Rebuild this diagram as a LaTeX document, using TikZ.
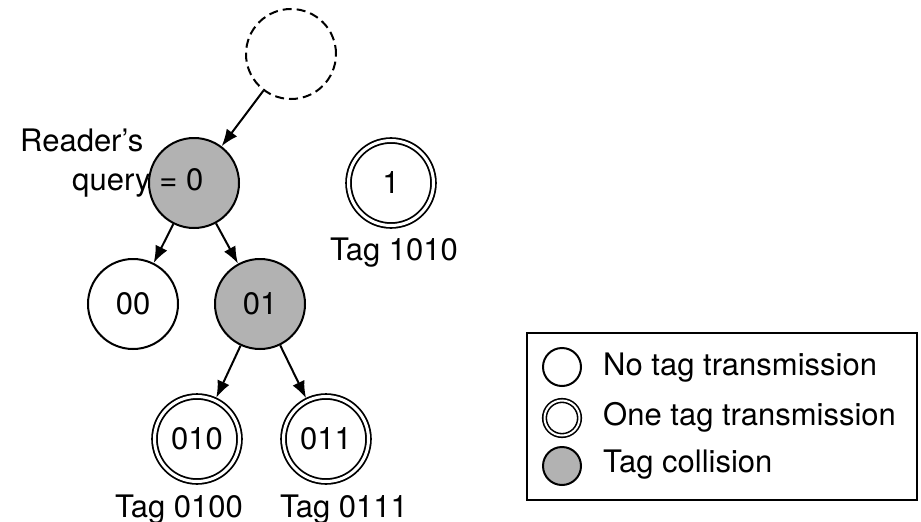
\documentclass[tikz,border=0pt]{standalone}
\usepackage{fontspec}
\setmainfont{TeX Gyre Heros}
\usetikzlibrary{positioning,arrows.meta}

\begin{document}
\begin{tikzpicture}[x=1pt,y=-1pt,
    font=\fontsize{31}{37}\selectfont,
    state/.style={circle,draw,line width=2pt,minimum size=90pt,inner sep=0pt},
    collide/.style={state,fill=black!30},
    onetag/.style={state,line width=1.8pt,double,double distance=3pt,minimum size=85pt,outer sep=3pt},
    ghost/.style={state,dash pattern=on 9pt off 5pt},
    edge/.style={-{Latex[length=17pt,width=13pt]},line width=2pt}]
    \useasboundingbox (0,0) rectangle (921,522);
    % query tree
    \node[ghost] (start) at (291,54) {};
    \node[collide] (q0) at (194,183) {};
    \node[onetag] (q1) at (391,183) {1};
    \node[state] (q00) at (133,304) {00};
    \node[collide] (q01) at (260,304) {01};
    \node[onetag] (q010) at (197,439) {010};
    \node[onetag] (q011) at (326,439) {011};
    \draw[edge] (start) -- (q0);
    \draw[edge] (q0) -- (q00);
    \draw[edge] (q0) -- (q01);
    \draw[edge] (q01) -- (q010);
    \draw[edge] (q01) -- (q011);
    % labels
    \node[anchor=base west,inner sep=0pt] (reader) at (20,151) {Reader’s};
    \node[anchor=base west,inner sep=0pt] (query) at (72,190) {query = 0};
    \node[anchor=base,inner sep=0pt] (tag1) at (394,260) {Tag 1010};
    \node[anchor=base,inner sep=0pt] (tag010) at (179,517) {Tag 0100};
    \node[anchor=base,inner sep=0pt] (tag011) at (344,517) {Tag 0111};
    % legend
    \draw[line width=1.6pt] (527,333) rectangle (917,500);
    \node[state,minimum size=38pt] (lnone) at (562,367) {};
    \node[onetag,minimum size=35pt,double distance=2pt,line width=1.6pt] (lone) at (562,418) {};
    \node[collide,minimum size=38pt] (lcoll) at (562,466) {};
    \node[anchor=base west,inner sep=0pt] (tnone) at (603,375) {No tag transmission};
    \node[anchor=base west,inner sep=0pt] (tone) at (603,425) {One tag transmission};
    \node[anchor=base west,inner sep=0pt] (tcoll) at (603,472) {Tag collision};
\end{tikzpicture}
\end{document}
